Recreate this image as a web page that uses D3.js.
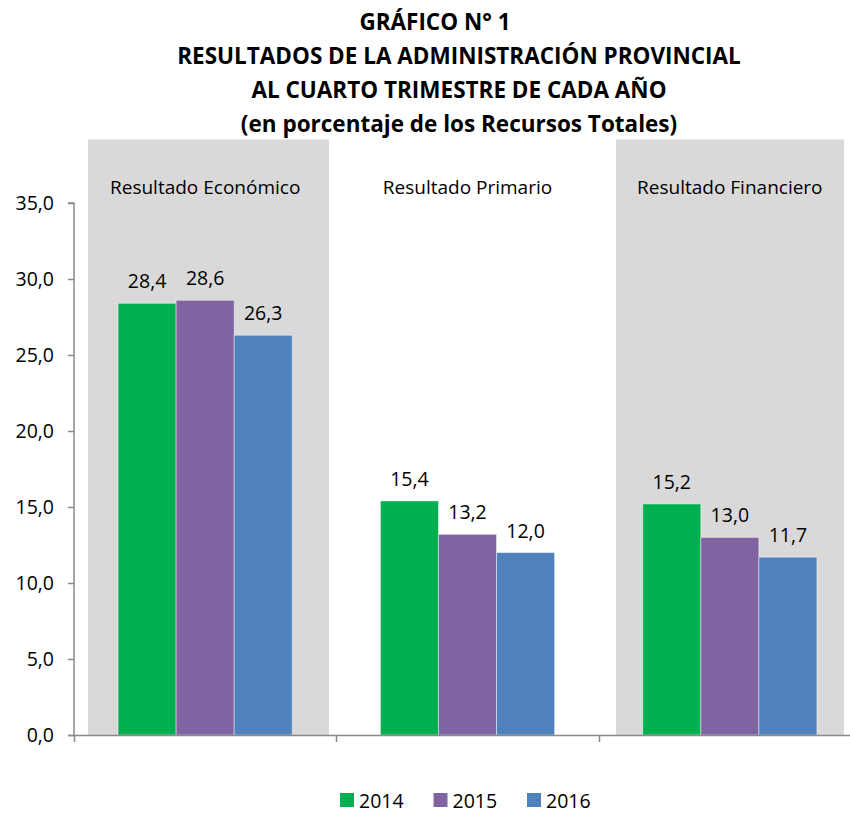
<!DOCTYPE html>
<html>
<head>
<meta charset="utf-8">
<script src="https://cdn.jsdelivr.net/npm/d3@7"></script>
<style>
    html, body { margin: 0; padding: 0; background: #fff; }
    svg { display: block; }
    text { font-family: "Open Sans", sans-serif; fill: #000; }
</style>
</head>
<body>
<svg id="chart" width="850" height="813"></svg>
<script>

// data
var title_lines = [
    "GRÁFICO N° 1",
    "RESULTADOS DE LA ADMINISTRACIÓN PROVINCIAL",
    "AL CUARTO TRIMESTRE DE CADA AÑO",
    "(en porcentaje de los Recursos Totales)"
];
var categories = [ "Resultado Económico", "Resultado Primario", "Resultado Financiero" ];
var shaded     = [ true, false, true ];
var years      = [ "2014", "2015", "2016" ];
var values_2014 = [ 28.4, 15.4, 15.2 ];
var values_2015 = [ 28.6, 13.2, 13.0 ];
var values_2016 = [ 26.3, 12.0, 11.7 ];
var y_ticks    = [ 0, 5, 10, 15, 20, 25, 30, 35 ];
var colours    = [ "#00b050", "#8064a2", "#4f81bd" ];

var series = [ values_2014, values_2015, values_2016 ];

var svg = d3.select("#chart"),
    left = 74,
    right = 861,
    top_y = 203,
    bottom_y = 735,
    fmt = v => d3.format(".1f")(v).replace(".", ",")
;

var x0 = d3.scaleBand().domain(categories).range([left, right])
        .paddingInner(0.336).paddingOuter(0.168),
    x1 = d3.scaleBand().domain(years).range([0, x0.bandwidth()]),
    xb = d3.scaleBand().domain(categories).range([76.5, 868.5])
        .paddingInner(0.087).paddingOuter(0.0435),
    y  = d3.scaleLinear().domain([0, 35]).range([bottom_y, top_y])
;

// title (first line sits a bit left of the others in the original)
svg.append("g").selectAll("text")
    .data(title_lines)
    .enter().append("text")
    .attr("x", (d,i) => i == 0 ? 435 : 459)
    .attr("y", (d,i) => 30 + i*34)
    .attr("text-anchor", "middle")
    .style("font-weight", "bold")
    .style("font-size", "22.5px")
    .text(d => d);

// grey backgrounds behind first and last groups
svg.append("defs").append("clipPath").attr("id", "plot-clip")
    .append("rect").attr("x", 0).attr("y", 0).attr("width", 844).attr("height", 813);

svg.append("g").attr("clip-path", "url(#plot-clip)")
    .selectAll("rect")
    .data(categories.filter( (c,i) => shaded[i] ))
    .enter().append("rect")
    .attr("x", d => xb(d))
    .attr("y", 139.5)
    .attr("width", xb.bandwidth())
    .attr("height", bottom_y - 139.5)
    .style("fill", "#d9d9d9");

// category names at the top
svg.append("g").selectAll("text")
    .data(categories)
    .enter().append("text")
    .attr("x", d => x0(d) + x0.bandwidth()/2)
    .attr("y", 194)
    .attr("text-anchor", "middle")
    .style("font-size", "19px")
    .text(d => d);

// bars
var groups = svg.append("g").selectAll("g")
    .data(years)
    .enter().append("g")
    .style("fill", (d,i) => colours[i]);

groups.selectAll("rect")
    .data( (yr,s) => categories.map( (c,i) => ({ cat: c, year: yr, value: series[s][i] }) ) )
    .enter().append("rect")
    .attr("x", d => x0(d.cat) + x1(d.year))
    .attr("y", d => y(d.value))
    .attr("width", x1.bandwidth())
    .attr("height", d => bottom_y - y(d.value))
    .style("stroke", "rgba(255,255,255,0.45)")
    .style("stroke-width", 1);

groups.selectAll("text")
    .data( (yr,s) => categories.map( (c,i) => ({ cat: c, year: yr, value: series[s][i] }) ) )
    .enter().append("text")
    .attr("x", d => x0(d.cat) + x1(d.year) + x1.bandwidth()/2)
    .attr("y", d => y(d.value) - 15)
    .attr("text-anchor", "middle")
    .style("fill", "#000")
    .style("font-size", "19.5px")
    .text(d => fmt(d.value));

// y axis
var y_axis = svg.append("g")
    .attr("transform", "translate(" + left + ",0)")
    .call(d3.axisLeft(y).tickValues(y_ticks).tickFormat(fmt).tickSize(6).tickPadding(14));
y_axis.select(".domain").attr("d", "M-6," + top_y + "H0V" + bottom_y);

// x axis, ticks between categories
var x_axis = svg.append("g")
    .attr("transform", "translate(0," + bottom_y + ")");
x_axis.append("line")
    .attr("x1", left - 6).attr("x2", 850)
    .attr("y1", 0.5).attr("y2", 0.5);
x_axis.selectAll(".sep")
    .data(categories)
    .enter().append("line")
    .attr("class", "sep")
    .attr("x1", d => Math.round(x0(d) - x0.step()*0.168) + 0.5)
    .attr("x2", d => Math.round(x0(d) - x0.step()*0.168) + 0.5)
    .attr("y1", 0).attr("y2", 7);

svg.selectAll(".tick line, .domain, g line")
    .style("stroke", "#898989")
    .style("stroke-width", 1.5)
    .style("fill", "none");
y_axis.selectAll("text")
    .style("font-size", "19.5px")
    .style("font-family", "'Open Sans', sans-serif");

// legend
var legend = svg.append("g").selectAll("g")
    .data(years)
    .enter().append("g")
    .attr("transform", (d,i) => "translate(" + (340 + i*93.5) + ",793)");
legend.append("rect")
    .attr("width", 14).attr("height", 14)
    .style("fill", (d,i) => colours[i]);
legend.append("text")
    .attr("x", 19).attr("y", 15)
    .style("font-size", "19.5px")
    .text(d => d);

</script>
</body>
</html>
